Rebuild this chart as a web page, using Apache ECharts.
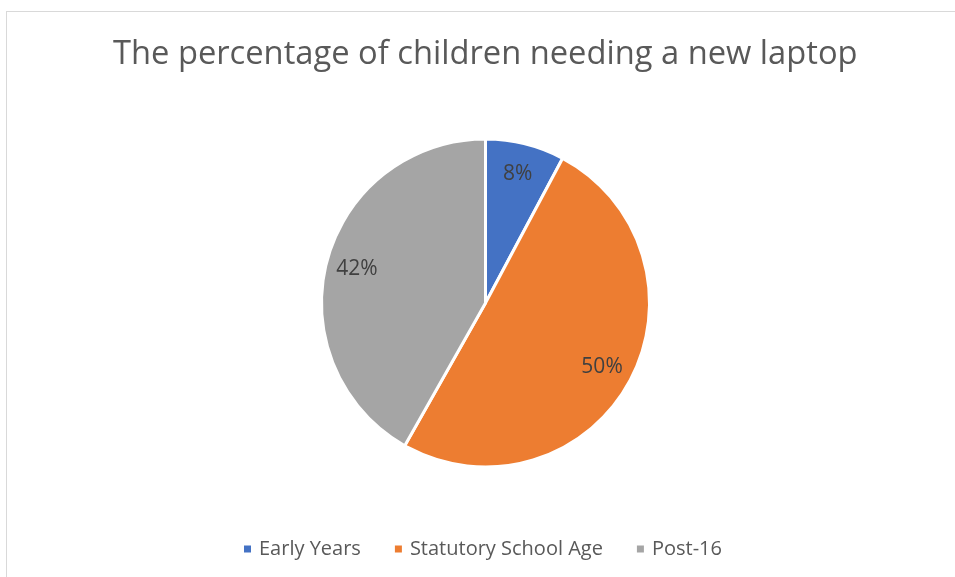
<!DOCTYPE html>
<html>
<head>
<meta charset="utf-8">
<script src="https://cdn.jsdelivr.net/npm/echarts@6/dist/echarts.min.js"></script>
<style>
    html, body {margin: 0; padding: 0; background: #fff;}
    #main {width: 955px; height: 577px; position: relative;}
    #frame {position: absolute; left: 6px; top: 11px; width: 960px; height: 580px; border: 1px solid #d9d9d9; box-sizing: border-box; pointer-events: none;}
</style>
</head>
<body>
<div id="main"></div>
<div id="frame"></div>
<script>
var categories = ['Early Years', 'Statutory School Age', 'Post-16'];
var shares = [7.8, 50.4, 41.8];
var colors = ['#4472c4', '#ed7d31', '#a5a5a5'];

~function () {
    var myChart = echarts.init(document.getElementById('main'));
    var slices = categories.map(function (name, i) {
        return {name: name, value: shares[i]};
    });
    var option = {
        backgroundColor: 'transparent',
        color: colors,
        title: {
            text: 'The percentage of children needing a new laptop',
            left: 108,
            top: 33,
            textStyle: {
                fontFamily: 'Open Sans',
                fontSize: 32.7,
                fontWeight: 'normal',
                color: '#595959'
            }
        },
        legend: {
            data: categories,
            bottom: 13,
            left: 237,
            icon: 'rect',
            itemWidth: 9,
            itemHeight: 9,
            itemGap: 32,
            textStyle: {
                fontFamily: 'Open Sans',
                fontSize: 20,
                color: '#595959',
                padding: [0, 0, 0, 2]
            }
        },
        series: [
            {
                type: 'pie',
                center: [485.5, 303],
                radius: [0, 164],
                startAngle: 90,
                clockwise: true,
                silent: true,
                data: slices,
                itemStyle: {borderColor: '#fff', borderWidth: 3},
                label: {show: false},
                labelLine: {show: false}
            },
            {
                // transparent ring only used to place the labels further out
                type: 'pie',
                center: [485.5, 303],
                radius: [96, 164],
                startAngle: 90,
                clockwise: true,
                silent: true,
                data: slices,
                itemStyle: {color: 'transparent'},
                label: {
                    show: true,
                    position: 'inside',
                    formatter: function (p) { return Math.round(p.percent) + '%'; },
                    fontFamily: 'Open Sans',
                    fontSize: 21,
                    color: '#404040'
                },
                labelLine: {show: false}
            }
        ]
    };
    myChart.setOption(option);
}();
</script>
</body>
</html>
